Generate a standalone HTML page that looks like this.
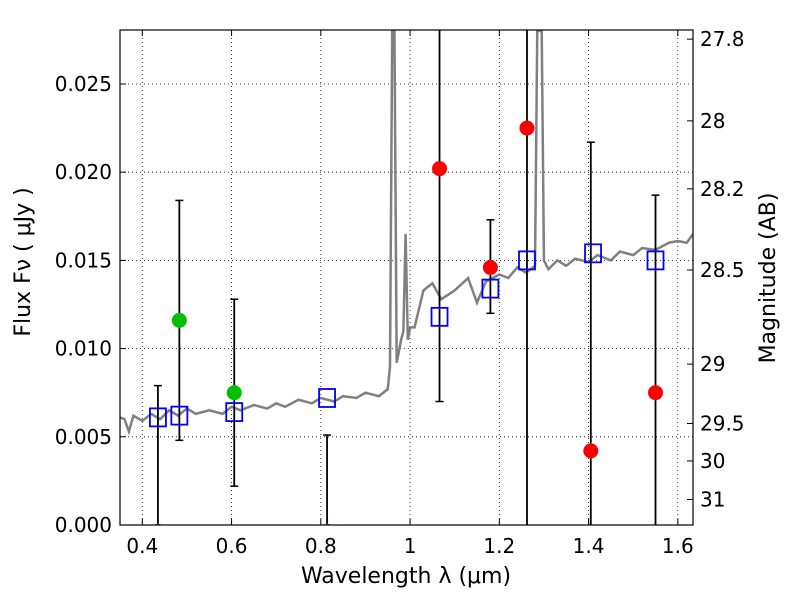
<!DOCTYPE html>
<html><head><meta charset="utf-8"><style>body{margin:0;background:#fff}svg{font-family:"DejaVu Sans","Liberation Sans",sans-serif}</style></head>
<body>
<svg id="c" width="800" height="600" xmlns="http://www.w3.org/2000/svg"></svg>
<script>
const xTicks=[0.4,0.6,0.8,1,1.2,1.4,1.6];
const yTicks=[0,0.005,0.010,0.015,0.020,0.025];
const yTickLabels=["0.000","0.005","0.010","0.015","0.020","0.025"];
const magTicks=[27.8,28,28.2,28.5,29,29.5,30,31];
const specW=[0.35,0.36,0.37,0.38,0.40,0.42,0.44,0.46,0.48,0.5,0.52,0.55,0.58,0.6,0.62,0.65,0.68,0.7,0.72,0.75,0.78,0.8,0.83,0.85,0.88,0.9,0.93,0.95,0.955,0.96,0.965,0.97,0.98,0.985,0.99,0.995,1.0,1.01,1.03,1.05,1.07,1.1,1.13,1.15,1.17,1.2,1.22,1.24,1.26,1.28,1.285,1.29,1.295,1.3,1.31,1.33,1.35,1.37,1.4,1.42,1.45,1.47,1.5,1.52,1.55,1.58,1.6,1.62,1.634];
const specF=[0.0061,0.0060,0.0053,0.0062,0.0059,0.0063,0.0060,0.0065,0.0062,0.0066,0.0063,0.0065,0.0063,0.0067,0.0065,0.0068,0.0066,0.0069,0.0067,0.0071,0.0069,0.0072,0.0070,0.0073,0.0072,0.0075,0.0073,0.0077,0.009,0.028,0.028,0.0092,0.0105,0.011,0.0165,0.0105,0.0112,0.0112,0.0133,0.0137,0.0128,0.0133,0.0140,0.0126,0.0138,0.0142,0.0140,0.0146,0.0143,0.0147,0.028,0.028,0.028,0.0150,0.0145,0.0150,0.0147,0.0151,0.0149,0.0153,0.0150,0.0155,0.0153,0.0157,0.0156,0.0160,0.0161,0.0160,0.0165];
const modelW=[0.435,0.483,0.606,0.814,1.066,1.18,1.262,1.41,1.55];
const modelF=[0.0061,0.0062,0.0064,0.0072,0.0118,0.0134,0.0150,0.0154,0.0150];
const redW=[1.066,1.18,1.262,1.405,1.55];
const redF=[0.0202,0.0146,0.0225,0.0042,0.0075];
const redLo=[0.0070,0.0120,0,0,0];
const redHi=[0.03,0.0173,0.03,0.0217,0.0187];
const grnW=[0.435,0.483,0.606,0.814];
const grnF=[-0.00035,0.0116,0.0075,-0.00035];
const grnLo=[0,0.0048,0.0022,0];
const grnHi=[0.0079,0.0184,0.0128,0.0051];

const L=120,R=693,T=30,B=525,x0=0.35,x1=1.634,y1=0.02806;
const X=v=>L+(v-x0)/(x1-x0)*(R-L);
const Y=v=>B-v/y1*(B-T);
const svg=document.getElementById('c');
const NS="http://www.w3.org/2000/svg";
function el(t,a,txt){const e=document.createElementNS(NS,t);for(const k in a)e.setAttribute(k,a[k]);if(txt!==undefined)e.textContent=txt;svg.appendChild(e);return e;}
const clip=el('clipPath',{id:'cp'});const cr=document.createElementNS(NS,'rect');cr.setAttribute('x',L);cr.setAttribute('y',T);cr.setAttribute('width',R-L);cr.setAttribute('height',B-T);clip.appendChild(cr);
xTicks.forEach(v=>{const g=el('line',{x1:X(v),x2:X(v),y1:T,y2:B,stroke:'#000','stroke-dasharray':'1,3','stroke-width':0.8});
 const t=el('text',{x:X(v),y:553,'font-size':20,'text-anchor':'middle'},String(v));
 el('line',{x1:X(v),x2:X(v),y1:B,y2:B-6,stroke:'#000'});el('line',{x1:X(v),x2:X(v),y1:T,y2:T+6,stroke:'#000'});});
yTicks.forEach((v,i)=>{const g=el('line',{x1:L,x2:R,y1:Y(v),y2:Y(v),stroke:'#000','stroke-dasharray':'1,3','stroke-width':0.8});
 const t=el('text',{x:112,y:Y(v)+7,'font-size':20,'text-anchor':'end'},yTickLabels[i]);
 el('line',{x1:L,x2:L+6,y1:Y(v),y2:Y(v),stroke:'#000'});});
magTicks.forEach(m=>{const f=Math.pow(10,(23.9-m)/2.5);const y=Y(f);
 el('line',{x1:R,x2:R-6,y1:y,y2:y,stroke:'#000'});
 const t=el('text',{x:700,y:y+7,'font-size':20},String(m));});
const sp=el('polyline',{points:specW.map((w,i)=>X(w)+','+Y(specF[i])).join(' '),fill:'none',stroke:'#808080','stroke-width':2.5,'clip-path':'url(#cp)'});

function errs(W,lo,hi,nm){W.forEach((w,i)=>{const a=Y(lo[i]),b=Math.max(Y(hi[i]),T);
 const e=el('line',{x1:X(w),x2:X(w),y1:a,y2:b,stroke:'#000','stroke-width':1.8});
 if(Y(hi[i])>T)el('line',{x1:X(w)-4,x2:X(w)+4,y1:b,y2:b,stroke:'#000','stroke-width':1.5});
 if(lo[i]>0)el('line',{x1:X(w)-4,x2:X(w)+4,y1:a,y2:a,stroke:'#000','stroke-width':1.5});});}
errs(redW,redLo,redHi,'red-error-bar');errs(grnW,grnLo,grnHi,'green-error-bar');
modelW.forEach((w,i)=>{const r=el('rect',{x:X(w)-8,y:Y(modelF[i])-9,width:16,height:18,fill:'none',stroke:'#0000ff','stroke-width':1.8});});
redW.forEach((w,i)=>{const c=el('circle',{cx:X(w),cy:Y(redF[i]),r:7.5,fill:'#ff0000'});});
grnW.forEach((w,i)=>{const c=el('circle',{cx:X(w),cy:Y(grnF[i]),r:7.5,fill:'#00c000','clip-path':'url(#cp)'});});
const fr=el('rect',{x:L,y:T,width:R-L,height:B-T,fill:'none',stroke:'#000','stroke-width':1.2});
const xt=el('text',{x:406,y:583,'font-size':22,'text-anchor':'middle'},'Wavelength  λ (μm)');
const yt=el('text',{x:0,y:0,'font-size':22,'text-anchor':'middle',transform:'translate(30,262) rotate(-90)'},'Flux  Fν  ( μJy )');
const rt=el('text',{x:0,y:0,'font-size':22,'text-anchor':'middle',transform:'translate(775,278) rotate(-90)'},'Magnitude (AB)');
</script>
</body></html>
